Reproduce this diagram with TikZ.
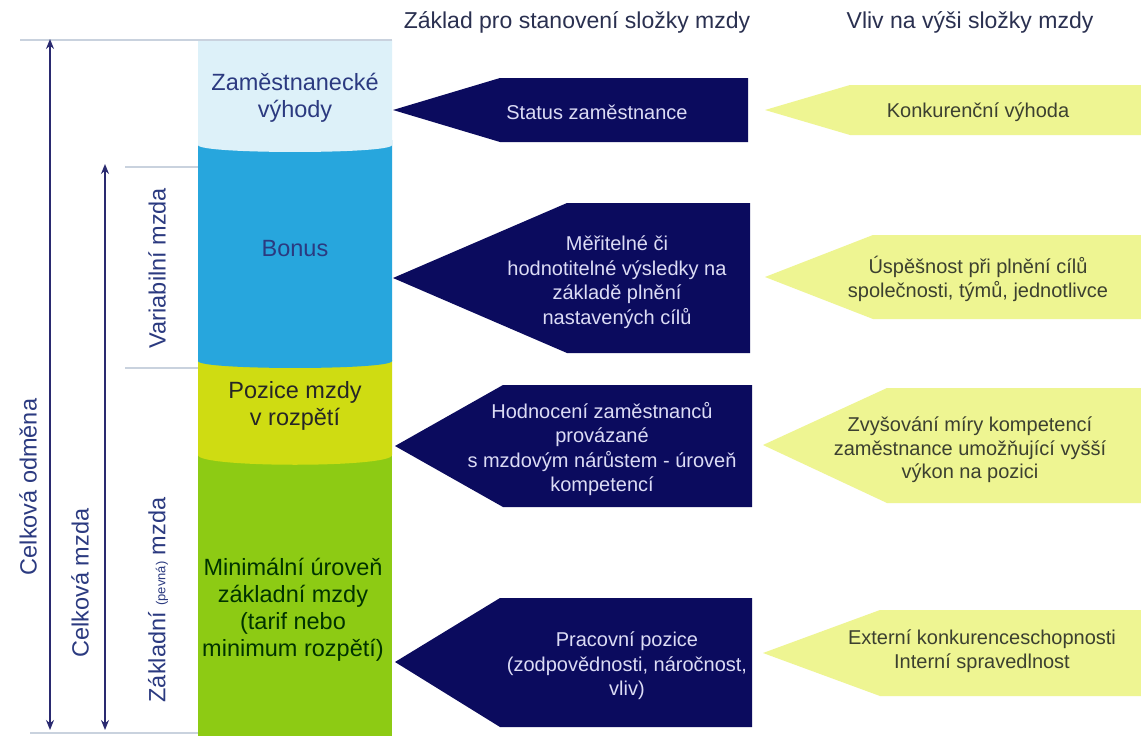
\documentclass[tikz,border=0pt]{standalone}
\usepackage{fontspec}
\setmainfont{Liberation Sans}
\usetikzlibrary{arrows.meta}
\definecolor{cLight}{HTML}{DDF1F9}
\definecolor{cBonus}{HTML}{27A6DD}
\definecolor{cPoz}{HTML}{CFDC12}
\definecolor{cGreen}{HTML}{8DCB14}
\definecolor{cNavy}{HTML}{0B0B5E}
\definecolor{cYel}{HTML}{EEF592}
\definecolor{cArrow}{HTML}{2A2A70}
\definecolor{cRule}{HTML}{C9D2DE}
\definecolor{cHead}{HTML}{2A3050}
\definecolor{cNavyTxt}{HTML}{DCDCF5}
\definecolor{cYelTxt}{HTML}{3C4030}
\definecolor{cLbl}{HTML}{2B3A80}
\begin{document}
\begin{tikzpicture}[x=1pt,y=-1pt,
  hdr/.style={text=cHead,font=\fontsize{23}{27}\selectfont},
  coltxt/.style={align=center,font=\fontsize{23.5}{27}\selectfont},
  navytxt/.style={align=center,text=cNavyTxt,font=\fontsize{20}{24.5}\selectfont},
  yeltxt/.style={align=center,text=cYelTxt,font=\fontsize{20}{23.5}\selectfont},
  vlbl/.style={rotate=90,text=cLbl,font=\fontsize{23.5}{27}\selectfont},
  rule/.style={draw=cRule,line width=1.2pt},
  dimarrow/.style={draw=cArrow,line width=1.6pt,{Stealth[length=10pt,width=8pt]}-{Stealth[length=10pt,width=8pt]}}
]
\useasboundingbox (0,0) rectangle (1141,736);
\fill[white] (0,0) rectangle (1141,736);

% column segments (bottom first)
\fill[cGreen] (198,440) rectangle (392,736);
\fill[cPoz] (198,360) -- (392,360) -- (392,455) .. controls (392,468) and (198,468) .. (198,455) -- cycle;
\fill[cBonus] (198,140) -- (392,140) -- (392,361) .. controls (392,370.3) and (198,370.3) .. (198,361) -- cycle;
\fill[cLight] (198,40) -- (392,40) -- (392,145) .. controls (392,154.3) and (198,154.3) .. (198,145) -- cycle;

% rules
\coordinate (r1a) at (20,40);   \coordinate (r1b) at (392,40);
\coordinate (r2a) at (125,167); \coordinate (r2b) at (198,167);
\coordinate (r3a) at (125,368); \coordinate (r3b) at (198,368);
\coordinate (r4a) at (30,733);  \coordinate (r4b) at (198,733);
\draw[rule] (r1a) -- (r1b);
\draw[rule] (r2a) -- (r2b);
\draw[rule] (r3a) -- (r3b);
\draw[rule] (r4a) -- (r4b);

% dimension arrows
\coordinate (a1t) at (50,39);  \coordinate (a1b) at (50,730);
\coordinate (a2t) at (105,164); \coordinate (a2b) at (105,730);
\draw[dimarrow] (a1t) -- (a1b);
\draw[dimarrow] (a2t) -- (a2b);

% vertical labels
\node[vlbl] (lOdm) at (28,487) {Celková odměna};
\node[vlbl] (lMzda) at (80,583) {Celková mzda};
\node[vlbl] (lVar) at (157,268) {Variabilní mzda};
\node[vlbl] (lZakl) at (158,600) {Základní {\fontsize{13}{15}\selectfont (pevná)} mzda};

% column texts
\node[coltxt,text=cLbl] (cZam) at (295,98) {Zaměstnanecké\\výhody};
\node[coltxt,text=cLbl] (cBon) at (295,249) {Bonus};
\node[coltxt,text=black!85] (cPozT) at (295,406) {Pozice mzdy\\v rozpětí};
\node[coltxt,text=black!80!green] (cMin) at (293,610) {Minimální úroveň\\základní mzdy\\(tarif nebo\\minimum rozpětí)};

% headers
\node[hdr] (h1) at (577,22) {Základ pro stanovení složky mzdy};
\node[hdr] (h2) at (970,22) {Vliv na výši složky mzdy};

% navy pentagons
\fill[cNavy] (393,110) -- (500,78) -- (748,78) -- (748,142) -- (500,142) -- cycle;
\fill[cNavy] (393,278) -- (567,203) -- (750,203) -- (750,353) -- (567,353) -- cycle;
\fill[cNavy] (395,446) -- (503,385) -- (752,385) -- (752,507) -- (503,507) -- cycle;
\fill[cNavy] (395,662) -- (500,598) -- (752,598) -- (752,727) -- (500,727) -- cycle;
\node[navytxt] (n1) at (597,112) {Status zaměstnance};
\node[navytxt] (n2) at (617,282) {Měřitelné či\\hodnotitelné výsledky na\\základě plnění\\nastavených cílů};
\node[navytxt] (n3) at (602,449) {Hodnocení zaměstnanců\\provázané\\s mzdovým nárůstem - úroveň\\kompetencí};
\node[navytxt] (n4) at (627,666) {Pracovní pozice\\(zodpovědnosti, náročnost,\\vliv)};

% yellow pentagons
\fill[cYel] (765,110) -- (850,85) -- (1141,85) -- (1141,135) -- (850,135) -- cycle;
\fill[cYel] (765,277) -- (873,235) -- (1141,235) -- (1141,319) -- (873,319) -- cycle;
\fill[cYel] (763,445) -- (887,388) -- (1141,388) -- (1141,503) -- (887,503) -- cycle;
\fill[cYel] (763,653) -- (880,610) -- (1141,610) -- (1141,696) -- (880,696) -- cycle;
\node[yeltxt] (y1) at (978,112) {Konkurenční výhoda};
\node[yeltxt] (y2) at (978,279) {Úspěšnost při plnění cílů\\společnosti, týmů, jednotlivce};
\node[yeltxt] (y3) at (970,450) {Zvyšování míry kompetencí\\zaměstnance umožňující vyšší\\výkon na pozici};
\node[yeltxt] (y4) at (982,651) {Externí konkurenceschopnosti\\Interní spravedlnost};
\end{tikzpicture}
\end{document}
